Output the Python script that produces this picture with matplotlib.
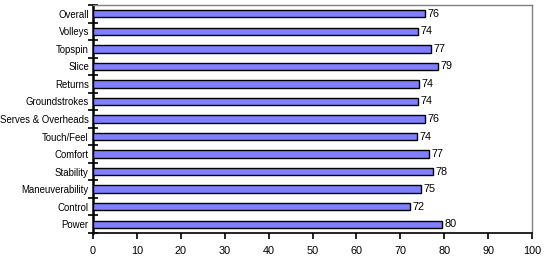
import numpy as np
import matplotlib
matplotlib.use("Agg")
import matplotlib.pyplot as plt

categories = [
    "Overall", "Volleys", "Topspin", "Slice", "Returns", "Groundstrokes",
    "Serves & Overheads", "Touch/Feel", "Comfort", "Stability",
    "Maneuverability", "Control", "Power",
]
scores = [75.6, 74.0, 77.1, 78.7, 74.3, 74.0, 75.7, 73.9, 76.6, 77.5, 74.8, 72.3, 79.6]
score_labels = ["76", "74", "77", "79", "74", "74", "76", "74", "77", "78", "75", "72", "80"]
x_ticks = [0, 10, 20, 30, 40, 50, 60, 70, 80, 90, 100]

plt.rcParams["font.family"] = ["Liberation Sans", "DejaVu Sans"]

W, H = 548, 260
fig = plt.figure(figsize=(W / 100, H / 100), dpi=100)
ax = fig.add_axes([93 / W, (H - 233) / H, (532 - 93) / W, (233 - 5) / H])

n = len(categories)
ypos = np.arange(n)[::-1]
ax.barh(ypos, scores, height=0.42, color="#8080ff", edgecolor="black", linewidth=1.0, zorder=3)

for y, v, lab in zip(ypos, scores, score_labels):
    ax.text(v + 0.5, y, lab, va="center", ha="left", fontsize=7.8)

ax.set_xlim(0, 100)
ax.set_ylim(-0.5, n - 0.5)
ax.set_xticks(x_ticks)
ax.set_xticklabels([str(t) for t in x_ticks], fontsize=7.8)
ax.set_yticks(ypos)
ax.set_yticklabels(categories, fontsize=6.9)
ax.set_yticks(np.arange(-0.5, n, 1.0), minor=True)

ax.tick_params(axis="y", which="major", length=0, pad=3)
ax.tick_params(axis="y", which="minor", direction="inout", length=7, width=1.2, color="black")
ax.tick_params(axis="x", which="major", direction="out", length=4, width=1.2, color="black", pad=5)

for side in ("top", "right"):
    ax.spines[side].set_color("#808080")
    ax.spines[side].set_linewidth(1.0)
ax.spines["left"].set_linewidth(1.8)
ax.spines["bottom"].set_linewidth(1.2)

fig.savefig("out.png", dpi=100)
